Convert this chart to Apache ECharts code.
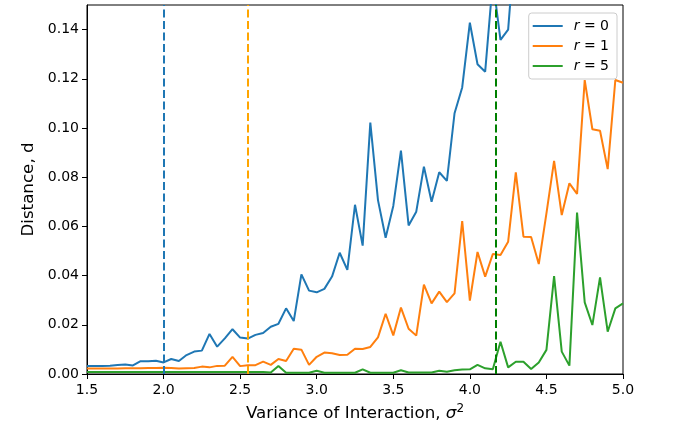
<!DOCTYPE html>
<html>
<head>
<meta charset="utf-8">
<style>
  html, body { margin: 0; padding: 0; background: #fff; }
  #chart { width: 692px; height: 427px; }
</style>
<script src="https://cdn.jsdelivr.net/npm/echarts@6/dist/echarts.min.js"></script>
</head>
<body>
<div id="chart"></div>
<script>
// sigma^2 sampled every 0.05 from 1.5 to 5.0
const sigma2 = [];
for (let i = 0; i <= 70; i++) sigma2.push(+(1.5 + i * 0.05).toFixed(2));

const seriesNames = ["r = 0", "r = 1", "r = 5"];

const distR0 = [
  0.0033, 0.0033, 0.0033, 0.0034, 0.0037, 0.0039, 0.0035, 0.0052, 0.0052, 0.0054,
  0.0047, 0.0061, 0.0053, 0.0077, 0.0091, 0.0095, 0.0163, 0.0111, 0.0145, 0.0182,
  0.0148, 0.0144, 0.0159, 0.0167, 0.0192, 0.0204, 0.0267, 0.0215, 0.0405, 0.0339,
  0.0332, 0.0346, 0.0396, 0.0493, 0.0423, 0.0688, 0.0522, 0.1022, 0.0707, 0.0554,
  0.0683, 0.0908, 0.0604, 0.0660, 0.0843, 0.0700, 0.0820, 0.0785, 0.1060, 0.1165,
  0.1428, 0.1259, 0.1229, 0.1600, 0.1358, 0.1400, 0.1800, null, null, null,
  null, null, null, null, null, null, null, null, null, null,
  null
];

const distR1 = [
  0.0022, 0.0022, 0.0022, 0.0022, 0.0022, 0.0023, 0.0023, 0.0023, 0.0024, 0.0024,
  0.0025, 0.0024, 0.0022, 0.0023, 0.0024, 0.0030, 0.0027, 0.0033, 0.0034, 0.0070,
  0.0032, 0.0036, 0.0036, 0.0050, 0.0037, 0.0061, 0.0053, 0.0103, 0.0099, 0.0037,
  0.0070, 0.0087, 0.0084, 0.0077, 0.0078, 0.0103, 0.0102, 0.0110, 0.0149, 0.0245,
  0.0157, 0.0270, 0.0184, 0.0156, 0.0363, 0.0287, 0.0335, 0.0292, 0.0328, 0.0622,
  0.0298, 0.0496, 0.0396, 0.0488, 0.0484, 0.0538, 0.0820, 0.0558, 0.0557, 0.0447,
  0.0653, 0.0866, 0.0646, 0.0775, 0.0732, 0.1195, 0.0995, 0.0989, 0.0833, 0.1195,
  0.1184
];

const distR5 = [
  0.0008, 0.0008, 0.0008, 0.0008, 0.0008, 0.0008, 0.0008, 0.0008, 0.0008, 0.0008,
  0.0008, 0.0008, 0.0008, 0.0008, 0.0008, 0.0008, 0.0008, 0.0008, 0.0008, 0.0008,
  0.0008, 0.0008, 0.0008, 0.0008, 0.0006, 0.0033, 0.0005, 0.0005, 0.0005, 0.0005,
  0.0013, 0.0005, 0.0005, 0.0005, 0.0005, 0.0005, 0.0019, 0.0005, 0.0005, 0.0005,
  0.0005, 0.0015, 0.0006, 0.0006, 0.0006, 0.0006, 0.0013, 0.0009, 0.0015, 0.0018,
  0.0019, 0.0037, 0.0023, 0.0019, 0.0131, 0.0027, 0.0050, 0.0050, 0.0020, 0.0047,
  0.0098, 0.0398, 0.0091, 0.0034, 0.0656, 0.0291, 0.0199, 0.0393, 0.0172, 0.0267,
  0.0287
];

// critical sigma^2 for each r (dashed lines)
const thresholds = [2.0, 2.55, 4.165];

const xTicks = [1.5, 2.0, 2.5, 3.0, 3.5, 4.0, 4.5, 5.0];
const yTicks = [0, 0.02, 0.04, 0.06, 0.08, 0.1, 0.12, 0.14];

const lineColors = ["#1f77b4", "#ff7f0e", "#2ca02c"];
const dashColors = ["#1f77b4", "#ffa500", "#008000"];
const font = "DejaVu Sans";

const dists = [distR0, distR1, distR5];

const chart = echarts.init(document.getElementById("chart"));

const series = dists.map((vals, k) => ({
  name: seriesNames[k],
  type: "line",
  data: sigma2.map((x, i) => [x, vals[i]]),
  symbol: "none",
  clip: true,
  lineStyle: { color: lineColors[k], width: 2 },
  itemStyle: { color: lineColors[k] },
  z: 2,
  markLine: {
    silent: true,
    symbol: "none",
    label: { show: false },
    lineStyle: { color: dashColors[k], width: 2, type: [8, 3.5] },
    data: [{ xAxis: thresholds[k] }],
    animation: false,
  },
}));

let option = {
  animation: false,
  backgroundColor: "#fff",
  grid: {
    left: 87,
    right: 69,
    top: 5,
    bottom: 53,
    show: true,
    borderColor: "#000",
    borderWidth: 1,
    backgroundColor: "transparent",
  },
  legend: {
    orient: "vertical",
    right: 75,
    top: 13,
    data: seriesNames,
    icon: "rect", // plain line sample, like matplotlib
    itemWidth: 30,
    itemHeight: 2,
    itemGap: 6,
    padding: [6, 8, 6, 4],
    backgroundColor: "rgba(255,255,255,0.8)",
    borderColor: "#cccccc",
    borderWidth: 1,
    borderRadius: 3,
    formatter: (name) => "{i|r}" + name.slice(1),
    textStyle: {
      fontFamily: font,
      fontSize: 14,
      color: "#000",
      padding: [0, 0, 0, 6],
      rich: {
        i: { fontFamily: font, fontSize: 14, fontStyle: "italic", color: "#000" },
      },
    },
  },
  xAxis: {
    type: "value",
    min: 1.5,
    max: 5.0,
    interval: 0.5,
    name: "Variance of Interaction, {s|σ}{sup|2}",
    nameLocation: "middle",
    nameGap: 29,
    nameTextStyle: {
      fontFamily: font,
      fontSize: 16.7,
      color: "#000",
      rich: {
        s: { fontFamily: font, fontSize: 16.7, fontStyle: "italic", color: "#000" },
        sup: { fontFamily: font, fontSize: 12, color: "#000", padding: [0, 0, 9, 0] },
      },
    },
    splitLine: { show: false },
    axisLine: { lineStyle: { color: "#000", width: 1 } },
    axisTick: { show: true, inside: false, length: 5, lineStyle: { color: "#000" }, customValues: xTicks },
    axisLabel: {
      fontFamily: font,
      fontSize: 14,
      color: "#000",
      margin: 9,
      customValues: xTicks,
      formatter: (v) => v.toFixed(1),
    },
  },
  yAxis: {
    type: "value",
    min: 0,
    max: 0.15,
    interval: 0.02,
    name: "Distance, d",
    nameLocation: "middle",
    nameGap: 47,
    nameTextStyle: { fontFamily: font, fontSize: 16.7, color: "#000" },
    splitLine: { show: false },
    axisLine: { show: true, lineStyle: { color: "#000", width: 1 } },
    axisTick: { show: true, inside: false, length: 5, lineStyle: { color: "#000" }, customValues: yTicks },
    axisLabel: {
      fontFamily: font,
      fontSize: 14,
      color: "#000",
      margin: 8,
      customValues: yTicks,
      formatter: (v) => v.toFixed(2),
    },
  },
  series: series,
};

chart.setOption(option);
</script>
</body>
</html>
